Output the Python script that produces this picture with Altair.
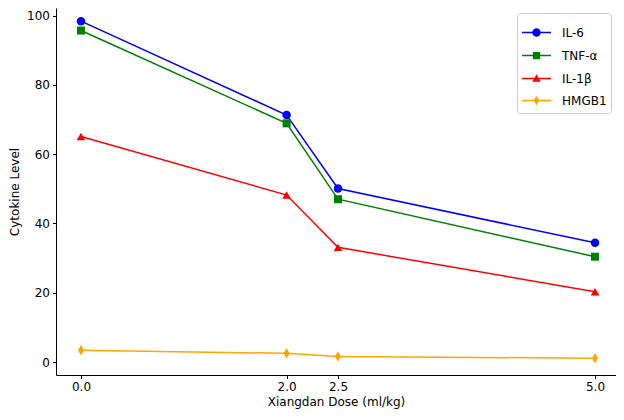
import math
import altair as alt
import pandas as pd

dose = [0.0, 2.0, 2.5, 5.0]
series_names = ["IL-6", "TNF-α", "IL-1β", "HMGB1"]
il6 = [98.4, 71.3, 50.1, 34.4]
tnf = [95.7, 68.9, 47.0, 30.4]
il1b = [65.1, 48.2, 33.1, 20.3]
hmgb1 = [3.4, 2.5, 1.6, 1.1]
colors = ["#0000ff", "#008000", "#ff0000", "#ffa500"]

rows = []
for name, vals in zip(series_names, [il6, tnf, il1b, hmgb1]):
    for d, v in zip(dose, vals):
        rows.append({"dose": d, "level": v, "series": name})
df = pd.DataFrame(rows)

marker_shapes = ["circle", "square", "triangle-up", "M0,-1L0.6,0L0,1L-0.6,0Z"]
marker_sizes = [72, 64, 74, 105]

# legend symbols: line segment + marker (polygons only), box -1..1 -> ~29px
line_seg = "M-1,-0.052L1,-0.052L1,0.052L-1,0.052Z"
r = 0.29
circ = "M" + "L".join(
    f"{r*math.cos(2*math.pi*k/20):.3f},{r*math.sin(2*math.pi*k/20):.3f}" for k in range(20)
) + "Z"
leg_shapes = [
    line_seg + circ,
    line_seg + "M-0.25,-0.25L0.25,-0.25L0.25,0.25L-0.25,0.25Z",
    line_seg + "M0,-0.3L0.29,0.22L-0.29,0.22Z",
    line_seg + "M0,-0.33L0.2,0L0,0.33L-0.2,0Z",
]

xs = alt.Scale(domain=[-0.243, 5.204], nice=False, zero=False)
ys = alt.Scale(domain=[-3.75, 102.2], nice=False, zero=False)

x_enc = alt.X("dose:Q", scale=xs,
              axis=alt.Axis(values=dose, format=".1f", title="Xiangdan Dose (ml/kg)",
                            grid=False, tickSize=3.5, labelPadding=3, titlePadding=4))
y_enc = alt.Y("level:Q", scale=ys,
              axis=alt.Axis(values=[0, 20, 40, 60, 80, 100], title="Cytokine Level",
                            grid=False, tickSize=3.5, labelPadding=3, titlePadding=5))

series_layers = []
for name, shp, sz, col in zip(series_names, marker_shapes, marker_sizes, colors):
    base = alt.Chart(df).transform_filter(alt.datum.series == name)
    series_layers.append(
        base.mark_line(strokeWidth=1.5, color=col).encode(x=x_enc, y=y_enc)
    )
    series_layers.append(
        base.mark_point(filled=True, opacity=1, shape=shp, size=sz, color=col)
        .encode(x=x_enc, y=y_enc)
    )

leg = alt.Legend(title=None, orient="top-right", offset=5,
                 symbolSize=841, symbolOpacity=1,
                 labelFontSize=12, labelFont="DejaVu Sans",
                 labelColor="black", labelOffset=10,
                 rowPadding=-12, padding=4,
                 strokeColor="#cccccc", fillColor="white",
                 cornerRadius=3)

legend_layer = alt.Chart(df).mark_point(filled=True, opacity=0.001).encode(
    x=x_enc, y=y_enc,
    color=alt.Color("series:N", scale=alt.Scale(domain=series_names, range=colors), legend=leg),
    shape=alt.Shape("series:N", scale=alt.Scale(domain=series_names, range=leg_shapes), legend=leg),
)

chart = alt.layer(*series_layers, legend_layer).properties(
    width=560, height=367,
    autosize=alt.AutoSizeParams(type="none"),
    padding={"left": 48, "top": 0, "right": 0, "bottom": 37},
).configure_view(stroke=None).configure_axis(
    domainColor="black", tickColor="black", labelColor="black", titleColor="black",
    labelFont="DejaVu Sans", titleFont="DejaVu Sans", labelFontSize=12,
    titleFontSize=12, titleFontWeight="normal", domainWidth=1, tickWidth=1,
)

chart.save("out.html", embed_options={"renderer": "svg", "actions": False})
